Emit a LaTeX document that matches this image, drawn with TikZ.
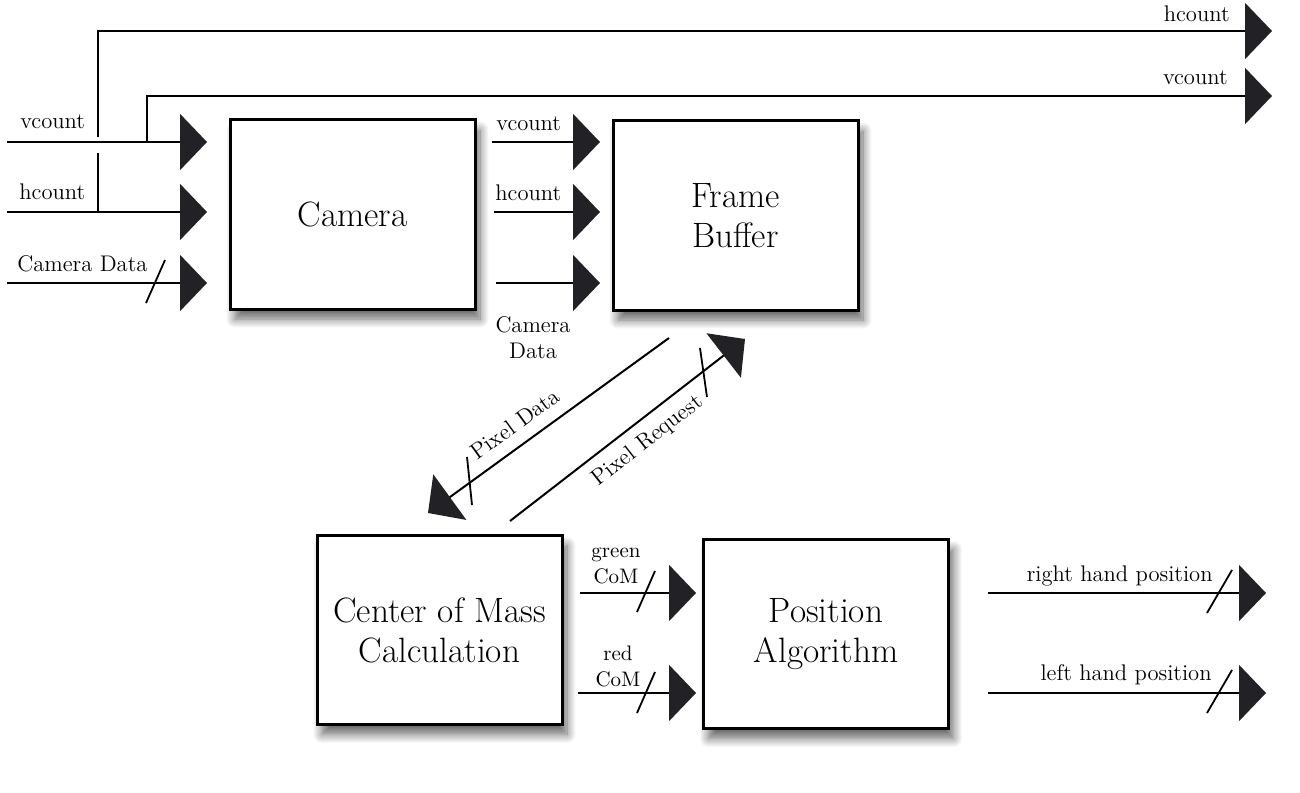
\documentclass[tikz,border=0pt]{standalone}
\usetikzlibrary{arrows.meta,shadows.blur}
\definecolor{tipc}{HTML}{222226}
\tikzset{
 blk/.style={draw, line width=1.5pt, fill=white, minimum width=122.5pt, minimum height=94.5pt,
   inner sep=0pt, outer sep=0pt, align=center, font=\fontsize{17.6}{20}\selectfont,
   blur shadow={shadow xshift=2.5pt, shadow yshift=-5pt, shadow blur steps=12, shadow blur radius=4.5pt, shadow opacity=60}},
 sig/.style={line width=1pt, -{Triangle[length=13.5pt,width=28pt,color=tipc]}},
 wire/.style={line width=1pt},
 slashmark/.style={line width=0.9pt},
 lbl/.style={font=\fontsize{11.3}{13}\selectfont, inner sep=0pt},
 slbl/.style={font=\fontsize{10.5}{13}\selectfont, inner sep=0pt, align=center},
}
\begin{document}
\begin{tikzpicture}[x=0.5pt,y=-0.5pt]
\useasboundingbox (0,0) rectangle (1300,792);
% blocks
\node[blk] (cam) at (352.5,214.5) {Camera};
\node[blk] (fb) at (735.5,215.5) {Frame\\Buffer};
\node[blk] (com) at (439.5,630) {Center of Mass\\Calculation};
\node[blk] (pos) at (826,634) {Position\\Algorithm};
% coordinates
\coordinate (vin) at (7,142);   \coordinate (vinT) at (207,142);
\coordinate (hin) at (7,212);   \coordinate (hinT) at (207,212);
\coordinate (din) at (7,283);   \coordinate (dinT) at (207,283);
\coordinate (vtap) at (147,142); \coordinate (vout) at (1272,96);
\coordinate (htap) at (98,212);  \coordinate (hgap) at (98,153);
\coordinate (hjump) at (98,137); \coordinate (hout) at (1272,31);
\coordinate (cv1) at (492,142); \coordinate (cv2) at (600,142);
\coordinate (ch1) at (494,212); \coordinate (ch2) at (600,212);
\coordinate (cd1) at (496,283); \coordinate (cd2) at (600,283);
\coordinate (pd1) at (669,338); \coordinate (pd2) at (428,513);
\coordinate (pr1) at (510,521); \coordinate (pr2) at (745,339);
\coordinate (g1) at (580,593);  \coordinate (g2) at (696,593);
\coordinate (r1) at (578,693);  \coordinate (r2) at (696,693);
\coordinate (rh1) at (988,593); \coordinate (rh2) at (1266,593);
\coordinate (lh1) at (988,693); \coordinate (lh2) at (1266,693);
% camera inputs
\draw[sig] (vin) -- (vinT);
\draw[sig] (hin) -- (hinT);
\draw[sig] (din) -- (dinT);
\draw[slashmark] (146,303) -- (165,260);
% taps to outputs
\draw[sig] (vtap) |- (vout);
\draw[wire] (htap) -- (hgap);
\draw[sig] (hjump) |- (hout);
% camera to frame buffer
\draw[sig] (cv1) -- (cv2);
\draw[sig] (ch1) -- (ch2);
\draw[sig] (cd1) -- (cd2);
% frame buffer <-> CoM
\draw[sig] (pd1) -- (pd2);
\draw[slashmark] (467,457) -- (472,505);
\draw[sig] (pr1) -- (pr2);
\draw[slashmark] (700,348) -- (707,397);
% CoM to position
\draw[sig] (g1) -- (g2);
\draw[slashmark] (637,612) -- (655,571);
\draw[sig] (r1) -- (r2);
\draw[slashmark] (637,713) -- (655,672);
% outputs
\draw[sig] (rh1) -- (rh2);
\draw[slashmark] (1207,613) -- (1232,570);
\draw[sig] (lh1) -- (lh2);
\draw[slashmark] (1207,713) -- (1232,670);
% labels
\node[lbl, anchor=base west] at (20,128) {vcount};
\node[lbl, anchor=base west] at (19,199) {hcount};
\node[lbl, anchor=base west] at (17,271) {Camera Data};
\node[lbl, anchor=base west] at (496,130) {vcount};
\node[lbl, anchor=base west] at (495,200) {hcount};
\node[lbl, align=center] at (533,338) {Camera\\Data};
\node[lbl, anchor=base east] at (1230,22) {hcount};
\node[lbl, anchor=base east] at (1228,85) {vcount};
\node[lbl, rotate=36] at (515,424) {Pixel Data};
\node[lbl, rotate=38] at (648,441) {Pixel Request};
\node[slbl] at (616,566) {green\\CoM};
\node[slbl] at (618,666) {red\\CoM};
\node[lbl, anchor=base east] at (1213,581) {right hand position};
\node[lbl, anchor=base east] at (1212,680) {left hand position};
\end{tikzpicture}
\end{document}
